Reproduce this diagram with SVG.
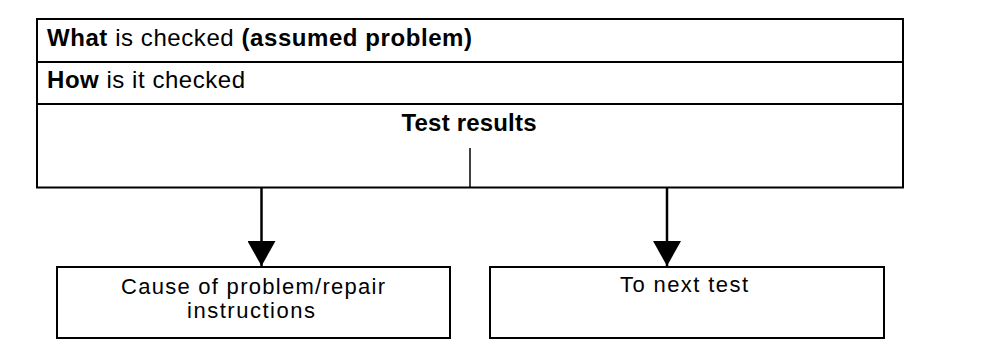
<svg xmlns="http://www.w3.org/2000/svg" width="992" height="362" viewBox="0 0 992 362">
<style>
.box{fill:#fff;stroke:#000;stroke-width:2}
.t{font-family:"Liberation Sans",Arial,sans-serif;font-size:24px;fill:#000}
.s{font-size:22px}
.b{font-weight:bold}
.ln{stroke:#000;stroke-width:2.5;fill:none}
</style>
<defs>
<marker id="ah" markerUnits="userSpaceOnUse" markerWidth="26" markerHeight="28" refX="25" refY="14" orient="auto" viewBox="0 0 26 28">
<path d="M0,0 L25,14 L0,28 Z" fill="#000"/>
</marker>
</defs>
<rect width="992" height="362" fill="#fff"/>
<g id="what">
<rect class="box" x="37" y="19" width="866" height="43"/>
<text class="t" x="47" y="46" textLength="425" lengthAdjust="spacing"><tspan class="b">What</tspan> is checked <tspan class="b">(assumed problem)</tspan></text>
</g>
<g id="how">
<rect class="box" x="37" y="62" width="866" height="42"/>
<text class="t" x="47" y="88" textLength="198" lengthAdjust="spacing"><tspan class="b">How</tspan> is it checked</text>
</g>
<g id="results">
<rect class="box" x="37" y="104" width="866" height="83.5"/>
<text class="t b" x="469" y="131" text-anchor="middle" textLength="135" lengthAdjust="spacing">Test results</text>
<line x1="470" y1="148" x2="470" y2="187" stroke="#000" stroke-width="1.5"/>
</g>
<g id="connectors">
<line class="ln" x1="261.5" y1="188" x2="261.5" y2="266" marker-end="url(#ah)"/>
<line class="ln" x1="667" y1="188" x2="667" y2="266" marker-end="url(#ah)"/>
</g>
<g id="cause">
<rect class="box" x="57" y="267" width="393" height="71"/>
<text class="t s" x="253" y="294" text-anchor="middle" textLength="264" lengthAdjust="spacing">Cause of problem/repair</text>
<text class="t s" x="251" y="318" text-anchor="middle" textLength="128" lengthAdjust="spacing">instructions</text>
</g>
<g id="next">
<rect class="box" x="490" y="267" width="394" height="71"/>
<text class="t s" x="684" y="292" text-anchor="middle" textLength="128" lengthAdjust="spacing">To next test</text>
</g>
</svg>
